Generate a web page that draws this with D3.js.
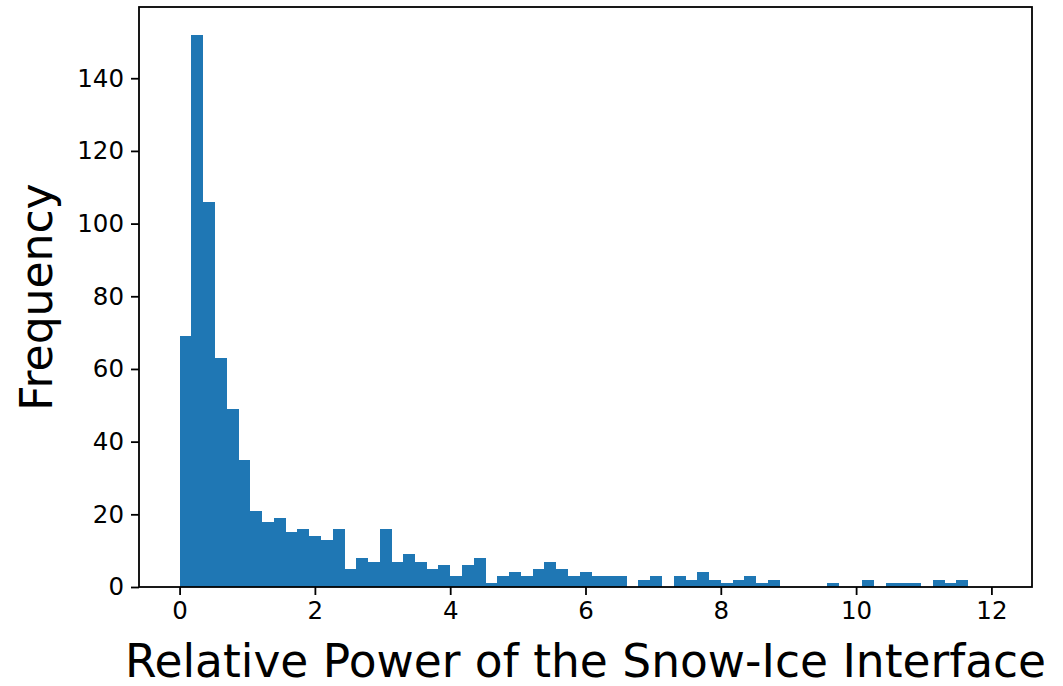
<!DOCTYPE html>
<html>
<head>
<meta charset="utf-8">
<script src="https://cdn.jsdelivr.net/npm/d3@7"></script>
<style>
  body { margin: 0; background: #fff; }
  text { font-family: "DejaVu Sans", sans-serif; fill: #000; }
</style>
</head>
<body>
<div id="chart"></div>
<script>
'use strict';

// histogram counts, one per bin
var counts = [69, 152, 106, 63, 49, 35, 21, 18, 19, 15, 16, 14, 13, 16, 5, 8, 7, 16,
    7, 9, 7, 5, 6, 3, 6, 8, 1, 3, 4, 3, 5, 7, 5, 3, 4, 3, 3, 3, 0, 2, 3, 0, 3, 2,
    4, 2, 1, 2, 3, 1, 2, 0, 0, 0, 0, 1, 0, 0, 2, 0, 1, 1, 1, 0, 2, 1, 2, 0, 0];
var binRange = [0, 12];
var xTicks = [0, 2, 4, 6, 8, 10, 12];
var yTicks = [0, 20, 40, 60, 80, 100, 120, 140];
var xLabel = 'Relative Power of the Snow-Ice Interface';
var yLabel = 'Frequency';

var width = 1063, height = 686;
var margin = { top: 7, right: 31, bottom: 99, left: 139 };
var innerW = width - margin.left - margin.right;
var innerH = height - margin.top - margin.bottom;

var binWidth = (binRange[1] - binRange[0]) / counts.length;
var bins = counts.map(function (c, i) {
    return { x0: binRange[0] + i * binWidth, x1: binRange[0] + (i + 1) * binWidth, count: c };
});

// matplotlib style 5% margins
var span = binRange[1] - binRange[0];
var x = d3.scaleLinear()
    .domain([binRange[0] - 0.05 * span, binRange[1] + 0.05 * span])
    .range([margin.left, margin.left + innerW]);
var y = d3.scaleLinear()
    .domain([0, d3.max(counts) * 1.05])
    .range([margin.top + innerH, margin.top]);

var svg = d3.select('#chart').append('svg')
    .attr('width', width).attr('height', height);

svg.append('rect').attr('width', width).attr('height', height).attr('fill', '#fff');

svg.append('g').attr('class', 'bars')
    .attr('shape-rendering', 'crispEdges')
    .selectAll('rect').data(bins.filter(function (d) { return d.count > 0; }))
    .enter().append('rect')
    .attr('x', function (d) { return x(d.x0); })
    .attr('width', function (d) { return x(d.x1) - x(d.x0) + 0.3; })
    .attr('y', function (d) { return y(d.count); })
    .attr('height', function (d) { return y(0) - y(d.count); })
    .attr('fill', '#1f77b4');

var xAxis = d3.axisBottom(x).tickValues(xTicks).tickSize(8).tickPadding(7).tickFormat(d3.format('d'));
var yAxis = d3.axisLeft(y).tickValues(yTicks).tickSize(8).tickPadding(7).tickFormat(d3.format('d'));

var gx = svg.append('g')
    .attr('transform', 'translate(0,' + (margin.top + innerH) + ')')
    .call(xAxis);
var gy = svg.append('g')
    .attr('transform', 'translate(' + margin.left + ',0)')
    .call(yAxis);

[gx, gy].forEach(function (g) {
    g.select('.domain').remove();
    g.selectAll('.tick line').attr('stroke', '#000').attr('stroke-width', 1.8);
    g.selectAll('.tick text').style('font-size', '24.5px').attr('fill', '#000');
});

// frame
svg.append('rect')
    .attr('x', margin.left).attr('y', margin.top)
    .attr('width', innerW).attr('height', innerH)
    .attr('fill', 'none').attr('stroke', '#000').attr('stroke-width', 1.8);

svg.append('text')
    .attr('x', margin.left + innerW / 2).attr('y', 677)
    .attr('text-anchor', 'middle')
    .style('font-size', '45.5px')
    .text(xLabel);

svg.append('text')
    .attr('transform', 'translate(52,' + (margin.top + innerH / 2) + ') rotate(-90)')
    .attr('text-anchor', 'middle')
    .style('font-size', '44px')
    .text(yLabel);
</script>
</body>
</html>
